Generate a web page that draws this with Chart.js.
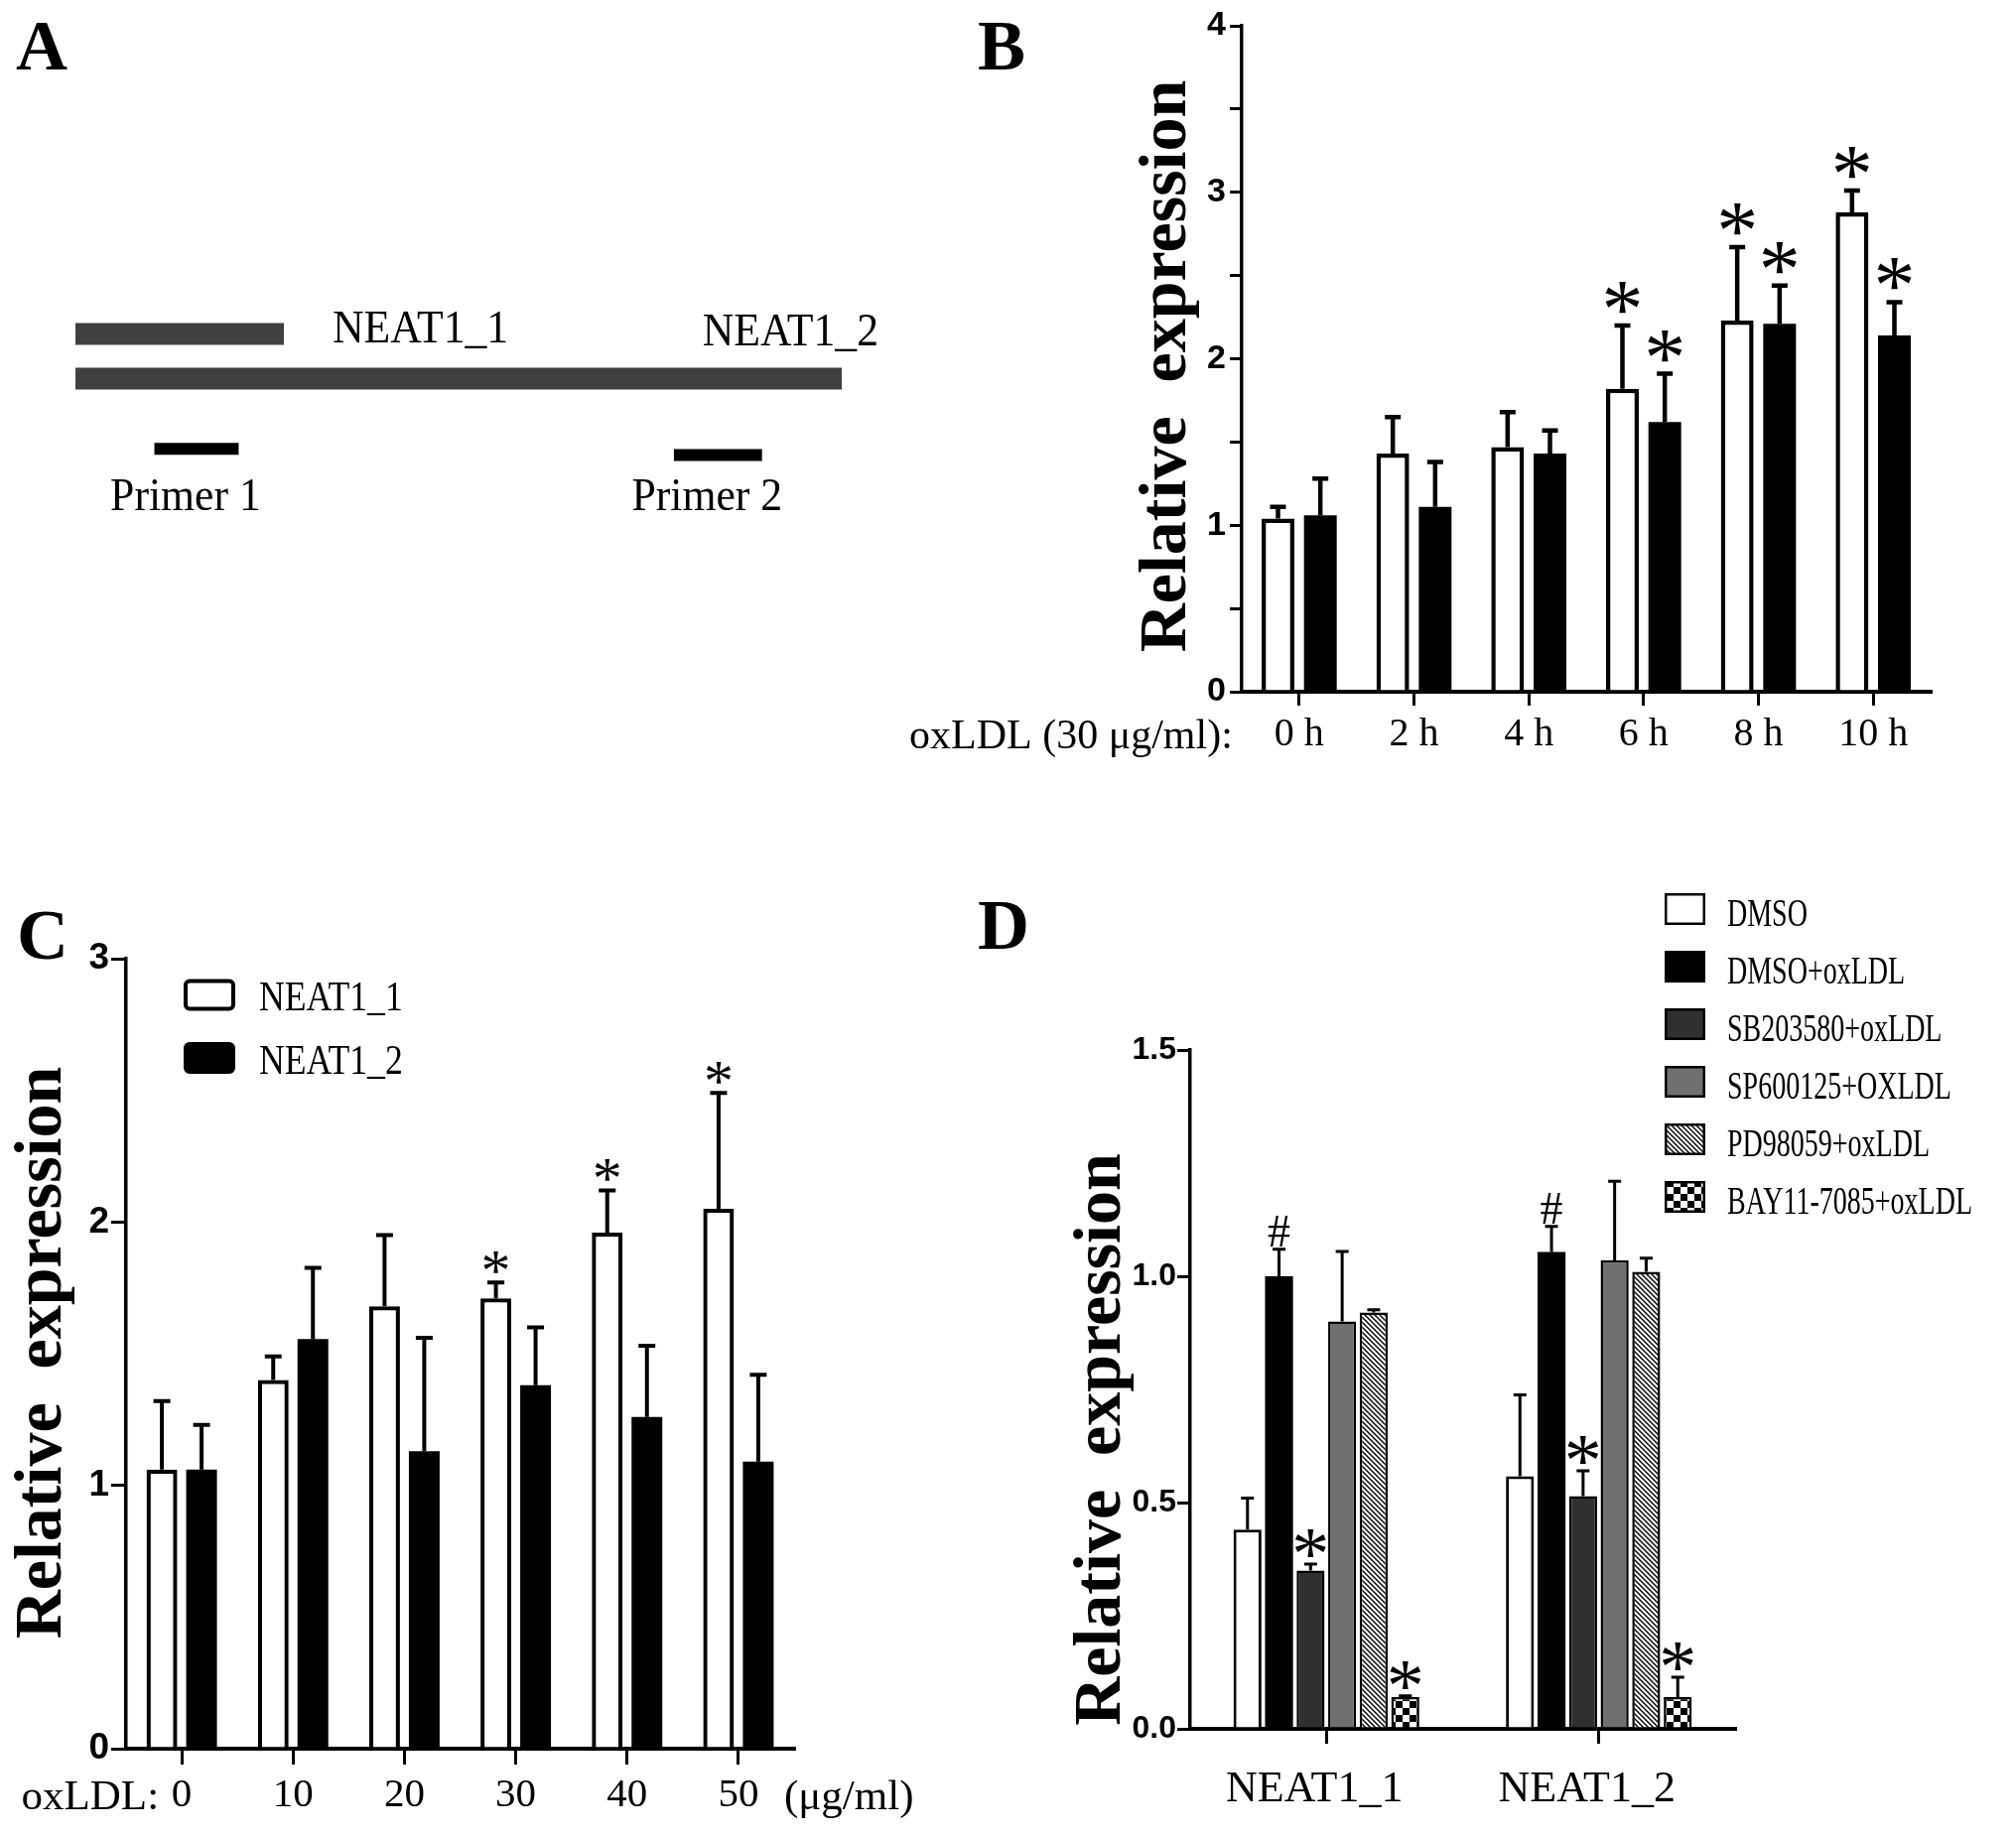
<!DOCTYPE html>
<html>
<head>
<meta charset="utf-8">
<title>NEAT1 expression</title>
<script src="https://cdn.jsdelivr.net/npm/chart.js@4.4.1/dist/chart.umd.min.js"></script>
<style>
  html, body { margin: 0; padding: 0; background: #fff; }
  body { position: relative; width: 2031px; height: 1852px; overflow: hidden; }
  canvas { position: absolute; }
  .panel { position: absolute; font: bold 72px "Liberation Serif", serif; line-height: 72px; color: #000; }
</style>
</head>
<body>
<canvas id="chartA" width="1000" height="560" style="left:0;top:0"></canvas>
<canvas id="chartB" width="1151" height="800" style="left:880px;top:0"></canvas>
<canvas id="chartC" width="1000" height="972" style="left:0;top:880px"></canvas>
<canvas id="chartD" width="1031" height="992" style="left:1000px;top:860px"></canvas>
<div class="panel" style="left:16px;top:10px">A</div>
<div class="panel" style="left:985px;top:10px">B</div>
<div class="panel" style="left:17px;top:906px">C</div>
<div class="panel" style="left:985px;top:896px">D</div>
<script>
// --- A: transcripts and primers (relative position along the gene) ---
const transcriptNames = ['NEAT1_1', 'NEAT1_2'];
const transcriptStart = [0, 0];
const transcriptEnd = [27.2, 100];
const transcriptRow = [1, 2];
const primerNames = ['Primer 1', 'Primer 2'];
const primerStart = [10.3, 78.1];
const primerEnd = [21.3, 89.6];
const primerRow = [3.57, 3.71];

// --- B: time course, oxLDL 30 ug/ml ---
const timeLabels = ['0 h', '2 h', '4 h', '6 h', '8 h', '10 h'];
const timeNeat1 = [1.04, 1.43, 1.47, 1.82, 2.23, 2.88];
const timeNeat1Sd = [0.07, 0.22, 0.21, 0.38, 0.44, 0.13];
const timeNeat1Mark = ['', '', '', '*', '*', '*'];
const timeNeat2 = [1.06, 1.11, 1.43, 1.62, 2.21, 2.14];
const timeNeat2Sd = [0.22, 0.27, 0.14, 0.29, 0.23, 0.20];
const timeNeat2Mark = ['', '', '', '*', '*', '*'];

// --- C: dose response ---
const doseLabels = ['0', '10', '20', '30', '40', '50'];
const doseNeat1 = [1.06, 1.40, 1.68, 1.71, 1.96, 2.05];
const doseNeat1Sd = [0.26, 0.09, 0.27, 0.06, 0.16, 0.44];
const doseNeat1Mark = ['', '', '', '*', '*', '*'];
const doseNeat2 = [1.06, 1.556, 1.13, 1.38, 1.26, 1.09];
const doseNeat2Sd = [0.17, 0.27, 0.43, 0.22, 0.27, 0.33];

// --- D: inhibitors ---
const geneLabels = ['NEAT1_1', 'NEAT1_2'];
const dmso = [0.44, 0.558];
const dmsoSd = [0.07, 0.18];
const dmsoOx = [1.00, 1.054];
const dmsoOxSd = [0.06, 0.056];
const dmsoOxMark = ['#', '#'];
const sb = [0.35, 0.514];
const sbSd = [0.014, 0.056];
const sbMark = ['*', '*'];
const sp = [0.90, 1.035];
const spSd = [0.155, 0.175];
const pd = [0.92, 1.01];
const pdSd = [0.006, 0.03];
const bay = [0.07, 0.07];
const baySd = [0.003, 0.044];
const bayMark = ['*', '*'];

const SERIF = '"Liberation Serif", "Times New Roman", serif';
const SANS = '"Liberation Sans", Arial, sans-serif';

function text(ctx, s, x, y, font, align, sx) {
  ctx.save();
  ctx.font = font;
  ctx.fillStyle = '#000';
  ctx.textAlign = align || 'left';
  ctx.textBaseline = 'alphabetic';
  ctx.translate(x, y);
  ctx.scale(sx || 1, 1);
  ctx.fillText(s, 0, 0);
  ctx.restore();
}

function yTitle(ctx, s, x, cy) {
  ctx.save();
  ctx.translate(x, cy);
  ctx.rotate(-Math.PI / 2);
  ctx.font = 'bold 68px ' + SERIF;
  ctx.fillStyle = '#000';
  ctx.textAlign = 'center';
  ctx.textBaseline = 'alphabetic';
  ctx.fillText(s, 0, 0);
  ctx.restore();
}

function hatchPattern() {
  const c = document.createElement('canvas');
  c.width = c.height = 5;
  const g = c.getContext('2d');
  g.fillStyle = '#fff';
  g.fillRect(0, 0, 5, 5);
  g.strokeStyle = '#000';
  g.lineWidth = 1.4;
  g.beginPath();
  g.moveTo(-1, -1); g.lineTo(6, 6);
  g.moveTo(-1, 4); g.lineTo(1, 6);
  g.moveTo(4, -1); g.lineTo(6, 1);
  g.stroke();
  return g.createPattern(c, 'repeat');
}

function checkerPattern() {
  const c = document.createElement('canvas');
  c.width = c.height = 14;
  const g = c.getContext('2d');
  g.fillStyle = '#fff';
  g.fillRect(0, 0, 14, 14);
  g.fillStyle = '#000';
  g.fillRect(0, 0, 7, 7);
  g.fillRect(7, 7, 7, 7);
  return g.createPattern(c, 'repeat');
}

// error bars (upper only) + significance marks
function errorBars(o) {
  return {
    id: 'errorBars',
    afterDatasetsDraw(chart) {
      const ctx = chart.ctx, y = chart.scales.y;
      chart.data.datasets.forEach((ds, i) => {
        chart.getDatasetMeta(i).data.forEach((bar, j) => {
          const top = y.getPixelForValue(ds.data[j] + ds.sd[j]);
          ctx.save();
          ctx.strokeStyle = '#000';
          ctx.lineWidth = o.width;
          ctx.beginPath();
          ctx.moveTo(bar.x, bar.y);
          ctx.lineTo(bar.x, top);
          ctx.moveTo(bar.x - o.cap / 2, top);
          ctx.lineTo(bar.x + o.cap / 2, top);
          ctx.stroke();
          ctx.restore();
          const m = ds.mark && ds.mark[j];
          if (m === '*') text(ctx, '*', bar.x, top + o.starDy, o.starFont, 'center', 1);
          if (m === '#') text(ctx, '#', bar.x, top + o.hashDy, o.hashFont, 'center', 1);
        });
      });
    }
  };
}

function barOptions(o) {
  return {
    responsive: false,
    animation: false,
    events: [],
    layout: { padding: o.padding },
    datasets: { bar: { categoryPercentage: o.catPct, barPercentage: o.barPct } },
    plugins: { legend: { display: false }, tooltip: { enabled: false } },
    scales: {
      x: {
        z: 1,
        grid: { offset: false, drawOnChartArea: false, tickLength: o.xTick, lineWidth: 3, color: '#000' },
        border: { color: '#000', width: 4 },
        ticks: { color: '#000', padding: o.xPad, maxRotation: 0, autoSkip: false, labelOffset: o.xLabelOffset || 0,
                 font: { family: SERIF, size: o.xFont } },
        afterFit: s => { s.height = o.xH; }
      },
      y: {
        z: 1,
        min: 0, max: o.yMax,
        grid: { drawOnChartArea: false, tickLength: o.yTick, lineWidth: 3, color: '#000' },
        border: { color: '#000', width: 3.5 },
        ticks: { color: '#000', padding: o.yPad, stepSize: o.yStep, callback: o.yFmt,
                 font: { family: SANS, size: o.yFont, weight: 'bold' } },
        afterFit: s => { s.width = o.yW; }
      }
    }
  };
}

// ---------------- A ----------------
const aSets = [];
transcriptNames.forEach((n, i) => aSets.push({
  label: n, showLine: true, borderColor: '#404040', borderWidth: 22, borderCapStyle: 'butt', pointRadius: 0,
  data: [{ x: transcriptStart[i], y: transcriptRow[i] }, { x: transcriptEnd[i], y: transcriptRow[i] }]
}));
primerNames.forEach((n, i) => aSets.push({
  label: n, showLine: true, borderColor: '#000', borderWidth: 12, borderCapStyle: 'butt', pointRadius: 0,
  data: [{ x: primerStart[i], y: primerRow[i] }, { x: primerEnd[i], y: primerRow[i] }]
}));

new Chart(document.getElementById('chartA'), {
  type: 'scatter',
  data: { datasets: aSets },
  options: {
    responsive: false, animation: false, events: [],
    layout: { padding: { left: 76, right: 152, top: 291.5, bottom: 88.5 } },
    plugins: { legend: { display: false }, tooltip: { enabled: false } },
    scales: {
      x: { type: 'linear', min: 0, max: 100, display: false },
      y: { type: 'linear', min: 0, max: 4, reverse: true, display: false }
    }
  },
  plugins: [{
    id: 'aLabels',
    afterDraw(chart) {
      const ctx = chart.ctx, x = chart.scales.x, y = chart.scales.y;
      const f = '46px ' + SERIF;
      text(ctx, transcriptNames[0], x.getPixelForValue(transcriptEnd[0]) + 49, y.getPixelForValue(transcriptRow[0]) + 8.5, f, 'left', 0.95);
      text(ctx, transcriptNames[1], x.getPixelForValue(transcriptEnd[1]) + 37, y.getPixelForValue(transcriptRow[1]) - 33.5, f, 'right', 0.95);
      const pb = Math.max(...primerRow.map(r => y.getPixelForValue(r))) + 56;
      primerNames.forEach((n, i) => {
        const cx = (x.getPixelForValue(primerStart[i]) + x.getPixelForValue(primerEnd[i])) / 2 - 11;
        text(ctx, n, cx, pb, f, 'center', 0.95);
      });
    }
  }]
});

// ---------------- B ----------------
new Chart(document.getElementById('chartB'), {
  type: 'bar',
  data: {
    labels: timeLabels,
    datasets: [
      { label: 'NEAT1_1', data: timeNeat1, sd: timeNeat1Sd, mark: timeNeat1Mark, backgroundColor: '#fff', borderColor: '#000', borderWidth: 4.5 },
      { label: 'NEAT1_2', data: timeNeat2, sd: timeNeat2Sd, mark: timeNeat2Mark, backgroundColor: '#000', borderColor: '#000', borderWidth: 0 }
    ]
  },
  options: barOptions({
    padding: { top: 26, right: 86, left: 0, bottom: 0 }, catPct: 0.738, barPct: 0.773,
    xTick: 14, xPad: 5, xFont: 40, xH: 103,
    yMax: 4, yStep: 0.5, yTick: 12, yPad: 4, yFont: 34, yW: 371,
    yFmt: v => Number.isInteger(v) ? String(v) : ''
  }),
  plugins: [
    errorBars({ width: 4.5, cap: 16, starFont: '84px ' + SERIF, starDy: 12 }),
    {
      id: 'bExtras',
      afterDraw(chart) {
        const ctx = chart.ctx, ca = chart.chartArea, x = chart.scales.x;
        yTitle(ctx, 'Relative  expression', ca.left - 57, (ca.top + ca.bottom) / 2 + 7.5);
        text(ctx, 'oxLDL (30 \u03bcg/ml):', x.getPixelForTick(0) - 67, ca.bottom + 57, '42px ' + SERIF, 'right', 1);
      }
    }
  ]
});

// ---------------- C ----------------
new Chart(document.getElementById('chartC'), {
  type: 'bar',
  data: {
    labels: doseLabels,
    datasets: [
      { label: 'NEAT1_1', data: doseNeat1, sd: doseNeat1Sd, mark: doseNeat1Mark, backgroundColor: '#fff', borderColor: '#000', borderWidth: 4.3 },
      { label: 'NEAT1_2', data: doseNeat2, sd: doseNeat2Sd, backgroundColor: '#000', borderColor: '#000', borderWidth: 0 }
    ]
  },
  options: barOptions({
    padding: { top: 86, right: 200, left: 0, bottom: 0 }, catPct: 0.713, barPct: 0.775,
    xTick: 16, xPad: 7, xFont: 41, xH: 90,
    yMax: 3, yStep: 1, yTick: 15, yPad: 2, yFont: 37, yW: 127,
    yFmt: v => String(v)
  }),
  plugins: [
    errorBars({ width: 4, cap: 17, starFont: '60px ' + SERIF, starDy: 8 }),
    {
      id: 'cExtras',
      afterDraw(chart) {
        const ctx = chart.ctx, ca = chart.chartArea, x = chart.scales.x;
        yTitle(ctx, 'Relative  expression', ca.left - 66, (ca.top + ca.bottom) / 2 - 1);
        text(ctx, 'oxLDL:', x.getPixelForTick(0) - 23, ca.bottom + 61, '43px ' + SERIF, 'right', 1);
        text(ctx, '(\u03bcg/ml)', x.getPixelForTick(doseLabels.length - 1) + 46, ca.bottom + 61, '43px ' + SERIF, 'left', 1);
        chart.data.datasets.forEach((ds, i) => {
          const bx = ca.left + 58, cy = ca.top + 36.5 + i * 63.5;
          ctx.save();
          ctx.beginPath();
          ctx.roundRect(bx + 2, cy - 14, 48, 28, 4);
          ctx.fillStyle = ds.backgroundColor;
          ctx.fill();
          ctx.lineWidth = 4;
          ctx.strokeStyle = '#000';
          ctx.stroke();
          ctx.restore();
          text(ctx, ds.label, bx + 76, cy + 15.5, '42px ' + SERIF, 'left', 0.85);
        });
      }
    }
  ]
});

// ---------------- D ----------------
const hatch = hatchPattern();
const checker = checkerPattern();
new Chart(document.getElementById('chartD'), {
  type: 'bar',
  data: {
    labels: geneLabels,
    datasets: [
      { label: 'DMSO', data: dmso, sd: dmsoSd, backgroundColor: '#fff', borderColor: '#000', borderWidth: 3 },
      { label: 'DMSO+oxLDL', data: dmsoOx, sd: dmsoOxSd, mark: dmsoOxMark, backgroundColor: '#000', borderColor: '#000', borderWidth: 0 },
      { label: 'SB203580+oxLDL', data: sb, sd: sbSd, mark: sbMark, backgroundColor: '#303030', borderColor: '#000', borderWidth: 2.5 },
      { label: 'SP600125+OXLDL', data: sp, sd: spSd, backgroundColor: '#707070', borderColor: '#000', borderWidth: 2.5 },
      { label: 'PD98059+oxLDL', data: pd, sd: pdSd, backgroundColor: hatch, borderColor: '#000', borderWidth: 2.5 },
      { label: 'BAY11-7085+oxLDL', data: bay, sd: baySd, mark: bayMark, backgroundColor: checker, borderColor: '#000', borderWidth: 2.5 }
    ]
  },
  options: barOptions({
    padding: { top: 198, right: 283, left: 0, bottom: 0 }, catPct: 0.695, barPct: 0.887,
    xTick: 15, xPad: 20, xFont: 44, xH: 110, xLabelOffset: -12,
    yMax: 1.5, yStep: 0.5, yTick: 13, yPad: 1, yFont: 32, yW: 199,
    yFmt: v => v.toFixed(1)
  }),
  plugins: [
    errorBars({ width: 3, cap: 13, starFont: '76px ' + SERIF, starDy: 15, hashFont: '46px ' + SERIF, hashDy: -3 }),
    {
      id: 'dExtras',
      afterDraw(chart) {
        const ctx = chart.ctx, ca = chart.chartArea;
        yTitle(ctx, 'Relative  expression', ca.left - 71, (ca.top + ca.bottom) / 2 + 50.5);
        chart.data.datasets.forEach((ds, i) => {
          const bx = ca.right - 71, cy = ca.top - 142 + i * 58;
          ctx.save();
          ctx.fillStyle = ds.backgroundColor;
          ctx.fillRect(bx, cy - 16, 41, 32);
          ctx.lineWidth = 2.5;
          ctx.strokeStyle = '#000';
          ctx.strokeRect(bx + 1.25, cy - 14.75, 38.5, 29.5);
          ctx.restore();
          text(ctx, ds.label, bx + 63, cy + 17, '40px ' + SERIF, 'left', 0.7);
        });
      }
    }
  ]
});
</script>
</body>
</html>
